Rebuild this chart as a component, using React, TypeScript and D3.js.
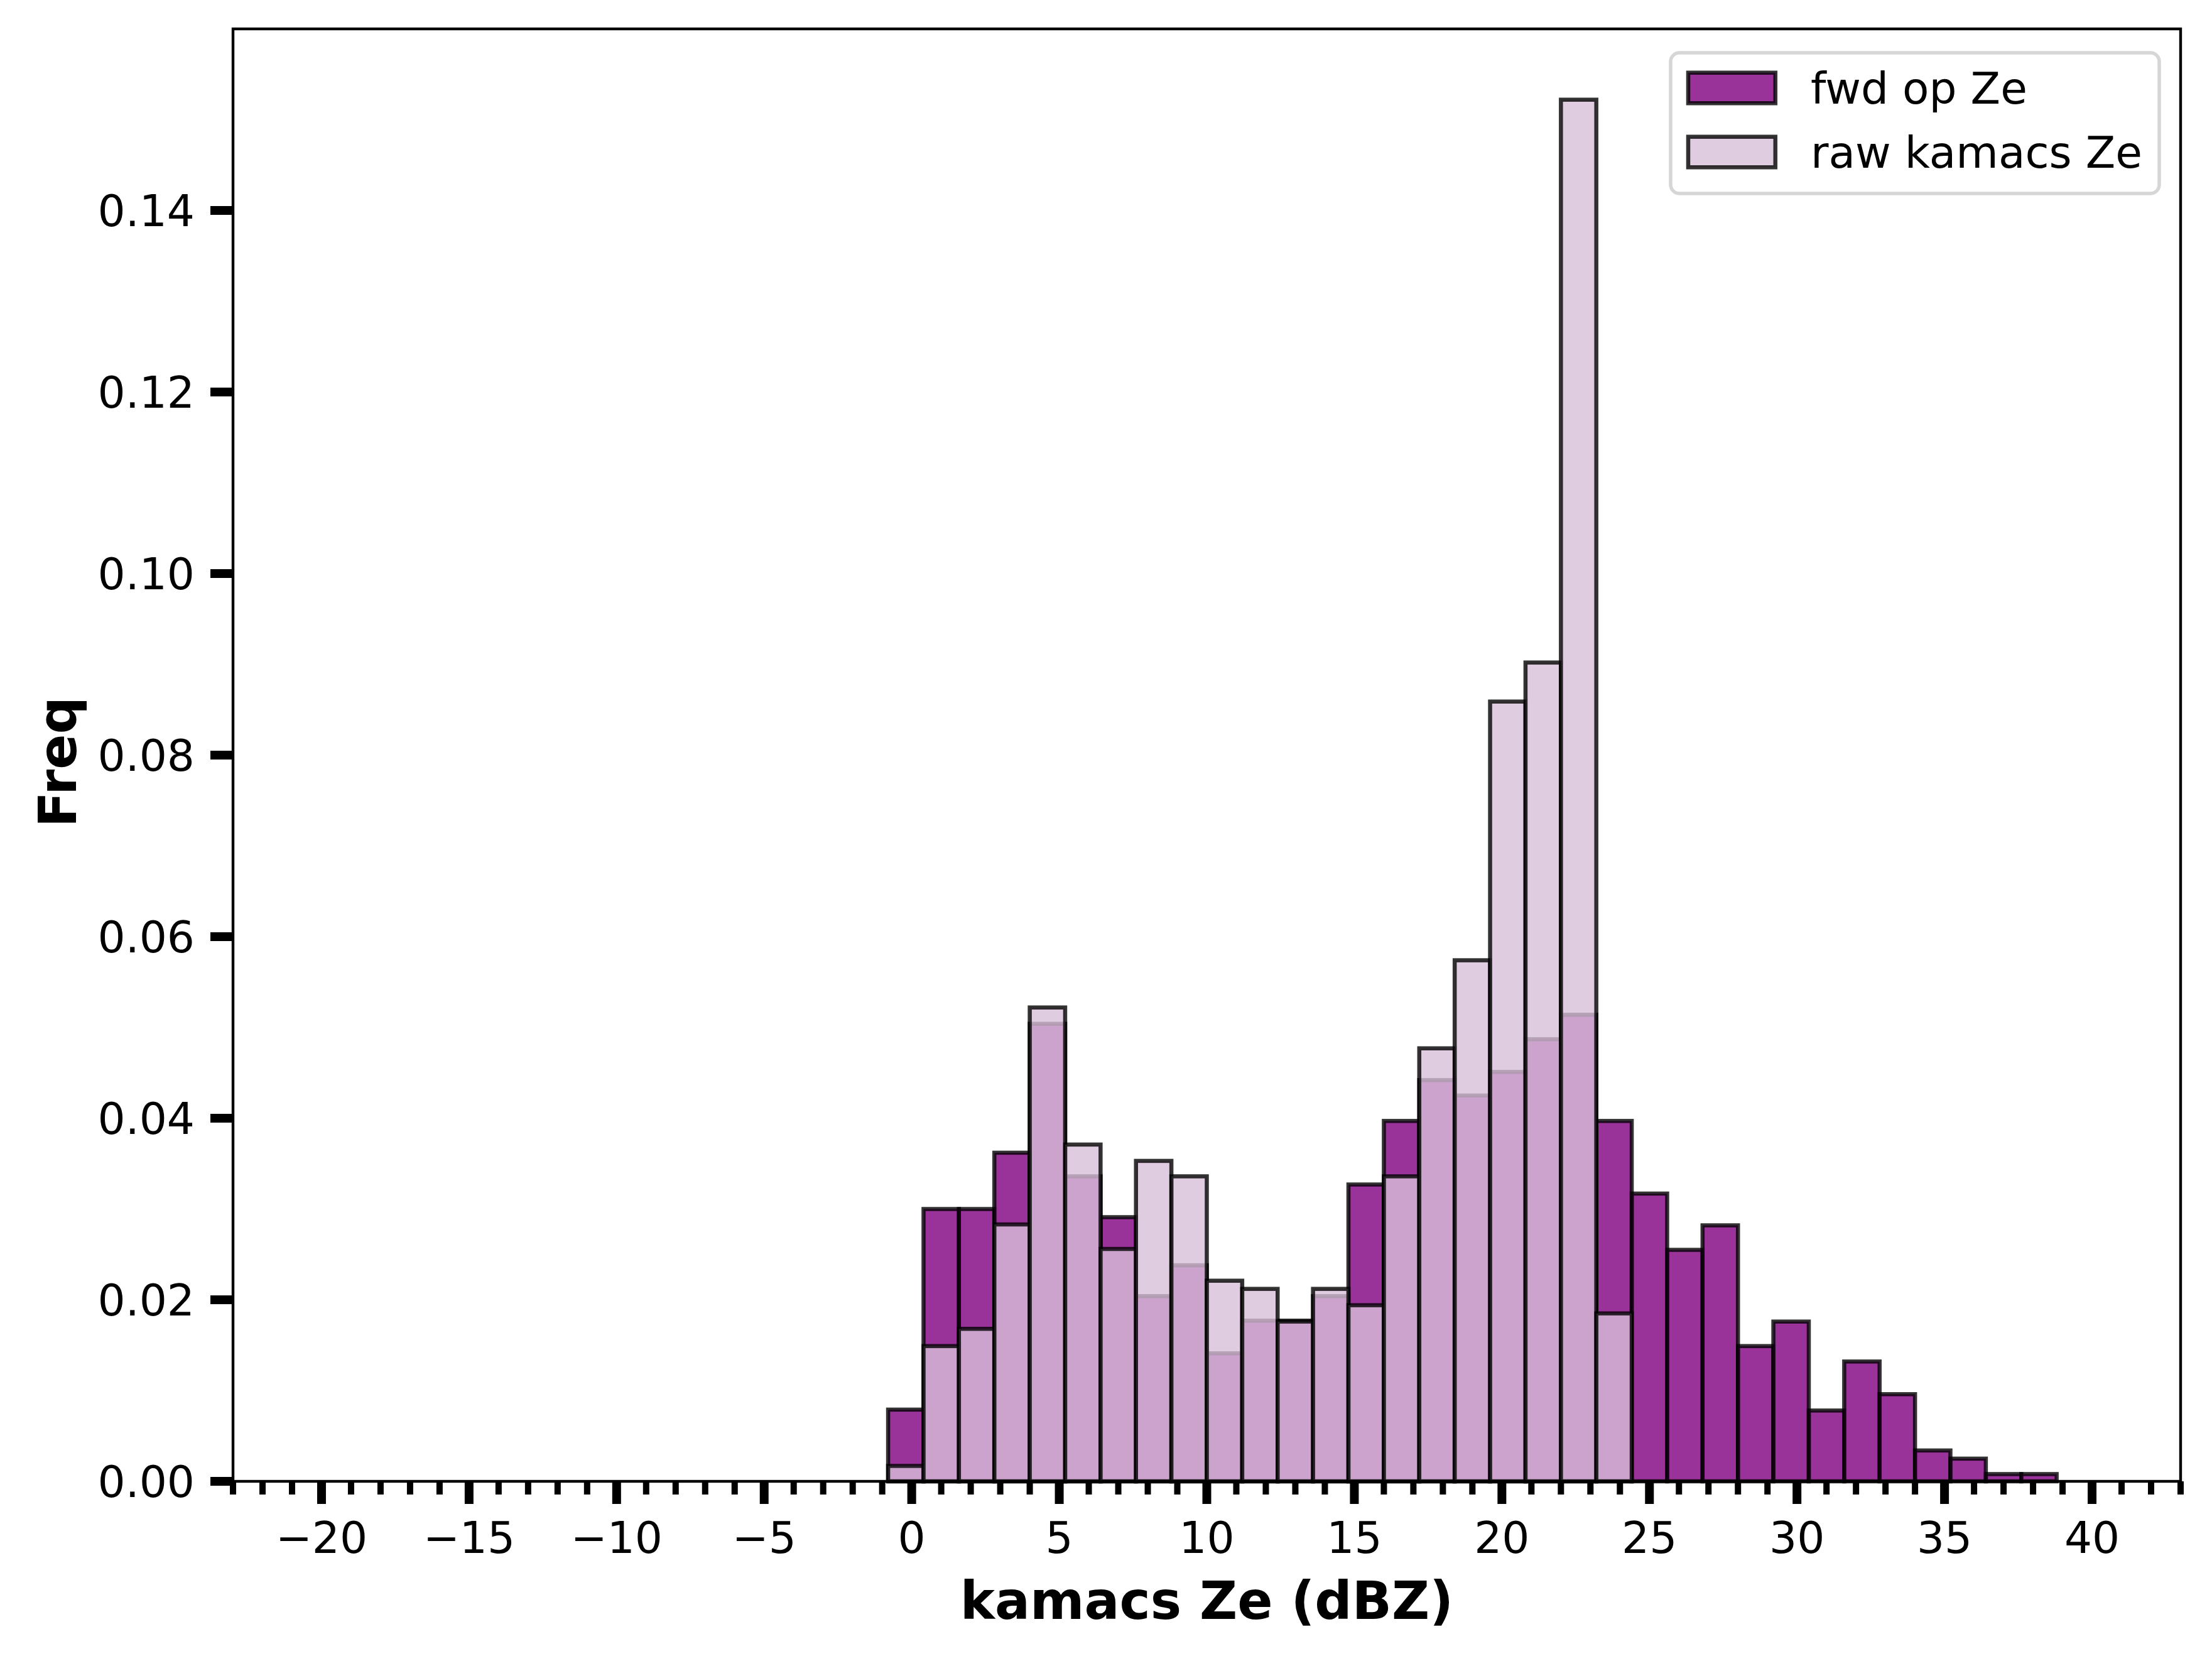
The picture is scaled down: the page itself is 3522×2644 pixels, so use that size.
import * as d3 from "d3";

const W = 3522;
const H = 2644;
// axes box in px
const AX = { left: 371, right: 3472, top: 46, bottom: 2358 };

// histogram bin edges (dBZ), shared by both series
const binEdges = [
  -0.8, 0.4, 1.6, 2.8, 4.0, 5.2, 6.4, 7.6, 8.8, 10.0, 11.2, 12.4, 13.6, 14.8,
  16.0, 17.2, 18.4, 19.6, 20.8, 22.0, 23.2, 24.4, 25.6, 26.8, 28.0, 29.2, 30.4,
  31.6, 32.8, 34.0, 35.2, 36.4, 37.6, 38.8,
];

// normalised frequencies per bin
const fwdFreq = [
  0.0079, 0.03, 0.03, 0.0362, 0.0504, 0.0336, 0.0291, 0.0204, 0.0238, 0.0141,
  0.0177, 0.0177, 0.0204, 0.0327, 0.0397, 0.0442, 0.0425, 0.0451, 0.0487,
  0.0514, 0.0397, 0.0317, 0.0255, 0.0282, 0.0149, 0.0176, 0.0078, 0.0132,
  0.0096, 0.0034, 0.0025, 0.0008, 0.0008,
];
const rawFreq = [
  0.0017, 0.0149, 0.0168, 0.0283, 0.0522, 0.0371, 0.0256, 0.0353, 0.0336,
  0.0221, 0.0212, 0.0176, 0.0212, 0.0194, 0.0336, 0.0477, 0.0574, 0.0859,
  0.0902, 0.1522, 0.0185, 0, 0, 0, 0, 0, 0, 0, 0, 0, 0, 0, 0,
];

const xMajor = [-20, -15, -10, -5, 0, 5, 10, 15, 20, 25, 30, 35, 40];
const yMajor = [0, 0.02, 0.04, 0.06, 0.08, 0.1, 0.12, 0.14];

const series = [
  { name: "fwd op Ze", values: fwdFreq, color: "purple" },
  { name: "raw kamacs Ze", values: rawFreq, color: "thistle" },
];

const FONT = "DejaVu Sans";
const TICK_FS = 69.4;
const LABEL_FS = 83;

export default function App() {
  const x = d3.scaleLinear().domain([-23, 43]).range([AX.left, AX.right]);
  const y = d3.scaleLinear().domain([0, 0.16]).range([AX.bottom, AX.top]);
  const xMinor = d3.range(-23, 44, 1).filter((t) => !xMajor.includes(t));

  const fmtX = (t: number) => (t < 0 ? `\u2212${Math.abs(t)}` : `${t}`);

  // legend geometry
  const lg = { x: 2660, y: 84, w: 778, h: 224 };
  const rows = [140, 242];

  return (
    <svg
      width={W}
      height={H}
      viewBox={`0 0 ${W} ${H}`}
      style={{ position: "absolute", left: 0, top: 0, background: "#fff" }}
      fontFamily={FONT}
    >
      <rect x={0} y={0} width={W} height={H} fill="#fff" />

      {/* bars: fwd first, raw on top */}
      {series.map((s) => (
        <g key={s.name}>
          {s.values.map((v, i) =>
            v > 0 ? (
              <rect
                key={i}
                x={x(binEdges[i])}
                y={y(v)}
                width={x(binEdges[i + 1]) - x(binEdges[i])}
                height={y(0) - y(v)}
                fill={s.color}
                fillOpacity={0.8}
                stroke="#000"
                strokeOpacity={0.8}
                strokeWidth={6.5}
              />
            ) : null
          )}
        </g>
      ))}

      {/* spines */}
      <rect
        x={AX.left}
        y={AX.top}
        width={AX.right - AX.left}
        height={AX.bottom - AX.top}
        fill="none"
        stroke="#000"
        strokeWidth={4.4}
      />

      {/* x ticks */}
      {xMinor.map((t) => (
        <line
          key={`xm${t}`}
          x1={x(t)}
          x2={x(t)}
          y1={AX.bottom}
          y2={AX.bottom + 21}
          stroke="#000"
          strokeWidth={10}
        />
      ))}
      {xMajor.map((t) => (
        <g key={`xM${t}`}>
          <line
            x1={x(t)}
            x2={x(t)}
            y1={AX.bottom}
            y2={AX.bottom + 36}
            stroke="#000"
            strokeWidth={14}
          />
          <text
            x={x(t)}
            y={AX.bottom + 114}
            fontSize={TICK_FS}
            textAnchor="middle"
            fill="#000"
          >
            {fmtX(t)}
          </text>
        </g>
      ))}

      {/* y ticks */}
      {yMajor.map((t) => (
        <g key={`yM${t}`}>
          <line
            x1={AX.left - 36}
            x2={AX.left}
            y1={y(t)}
            y2={y(t)}
            stroke="#000"
            strokeWidth={14}
          />
          <text
            x={310}
            y={y(t) + 25}
            fontSize={TICK_FS}
            textAnchor="end"
            fill="#000"
          >
            {t.toFixed(2)}
          </text>
        </g>
      ))}

      {/* axis labels */}
      <text
        x={(AX.left + AX.right) / 2}
        y={2577}
        fontSize={LABEL_FS}
        fontWeight="bold"
        textAnchor="middle"
      >
        kamacs Ze (dBZ)
      </text>
      <text
        transform={`translate(121,1213) rotate(-90)`}
        fontSize={LABEL_FS}
        fontWeight="bold"
        textAnchor="middle"
      >
        Freq
      </text>

      {/* legend */}
      <rect
        x={lg.x}
        y={lg.y}
        width={lg.w}
        height={lg.h}
        rx={14}
        fill="#fff"
        fillOpacity={0.8}
        stroke="#cccccc"
        strokeOpacity={0.8}
        strokeWidth={5.5}
      />
      {series.map((s, i) => (
        <g key={`lg${s.name}`}>
          <rect
            x={2688}
            y={rows[i] - 24.3}
            width={138.8}
            height={48.6}
            fill={s.color}
            fillOpacity={0.8}
            stroke="#000"
            strokeOpacity={0.8}
            strokeWidth={6.5}
          />
          <text x={2883} y={rows[i] + 25} fontSize={TICK_FS} fill="#000">
            {s.name}
          </text>
        </g>
      ))}
    </svg>
  );
}
